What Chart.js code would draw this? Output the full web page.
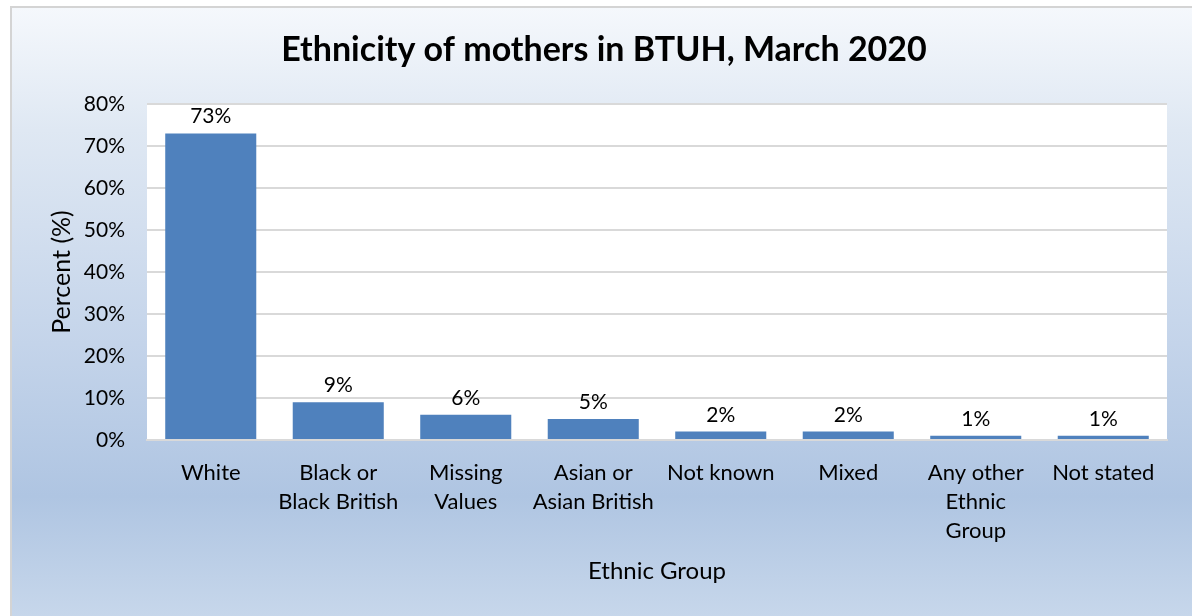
<!DOCTYPE html>
<html>
<head>
<meta charset="utf-8">
<script src="https://cdn.jsdelivr.net/npm/chart.js@4/dist/chart.umd.min.js"></script>
<style>
  html, body { margin: 0; padding: 0; background: #ffffff; overflow: hidden; }
  #frame {
    position: absolute; left: 10px; top: 6px;
    width: 1182px; height: 610px;
    border-left: 2px solid #d4d4d4; border-top: 2px solid #d4d4d4;
    background: linear-gradient(to bottom, #f5f8fc 0%, #dfe8f3 20%, #c4d4ea 55%, #afc5e2 80%, #c7d7eb 100%);
    overflow: hidden;
  }
  canvas { display: block; }
</style>
</head>
<body>
<div id="frame"><canvas id="chart" width="1180" height="608"></canvas></div>
<script>
// Share of mothers by ethnic group (percent)
const categories = [
  "White",
  ["Black or", "Black British"],
  ["Missing", "Values"],
  ["Asian or", "Asian British"],
  "Not known",
  "Mixed",
  ["Any other", "Ethnic", "Group"],
  "Not stated"
];
const percentValues = [73, 9, 6, 5, 2, 2, 1, 1];
const yTicks = [0, 10, 20, 30, 40, 50, 60, 70, 80];
const chartTitle = 'Ethnicity of mothers in BTUH, March 2020';

const FONT = "Lato, 'Open Sans', sans-serif";

// White plot background behind the bars
const plotBackground = {
  id: 'plotBackground',
  beforeDraw(chart) {
    const { ctx, chartArea: a } = chart;
    ctx.save();
    ctx.fillStyle = '#ffffff';
    ctx.fillRect(a.left, a.top, a.right - a.left, a.bottom - a.top);
    ctx.restore();
  }
};

// Chart heading, centred on the whole frame
const heading = {
  id: 'heading',
  afterDraw(chart) {
    const { ctx } = chart;
    ctx.save();
    ctx.font = `bold 34px ${FONT}`;
    ctx.fillStyle = '#000000';
    ctx.textAlign = 'center';
    ctx.textBaseline = 'middle';
    ctx.fillText(chartTitle, 592, 42);
    ctx.restore();
  }
};

// Value labels above each bar
const barValueLabels = {
  id: 'barValueLabels',
  afterDatasetsDraw(chart) {
    const { ctx } = chart;
    const meta = chart.getDatasetMeta(0);
    ctx.save();
    ctx.font = `21px ${FONT}`;
    ctx.fillStyle = '#000000';
    ctx.textAlign = 'center';
    ctx.textBaseline = 'alphabetic';
    meta.data.forEach((bar, i) => {
      const v = chart.data.datasets[0].data[i];
      ctx.fillText(v + '%', bar.x, bar.y - 10);
    });
    ctx.restore();
  }
};

new Chart(document.getElementById('chart'), {
  type: 'bar',
  data: {
    labels: categories,
    datasets: [{
      data: percentValues,
      backgroundColor: '#4f81bd',
      borderWidth: 0,
      barPercentage: 0.714,
      categoryPercentage: 1.0
    }]
  },
  options: {
    responsive: false,
    animation: false,
    devicePixelRatio: 1,
    layout: { padding: { left: 0, right: 25, top: 96, bottom: 0 } },
    plugins: {
      legend: { display: false },
      tooltip: { enabled: false },
      title: { display: false }
    },
    scales: {
      x: {
        grid: { display: false, drawTicks: false },
        border: { display: true, color: '#d9d9d9', width: 2 },
        ticks: {
          color: '#000000',
          font: { family: FONT, size: 22, lineHeight: 1.32 },
          padding: 18,
          maxRotation: 0,
          autoSkip: false
        },
        title: {
          display: true,
          text: 'Ethnic Group',
          color: '#000000',
          font: { family: FONT, size: 24 },
          padding: { top: 0, bottom: 30 }
        },
        afterFit(scale) { scale.height = 176; }
      },
      y: {
        min: 0,
        max: 80,
        afterBuildTicks(scale) { scale.ticks = yTicks.map(v => ({ value: v })); },
        grid: { color: '#d9d9d9', lineWidth: 2, drawTicks: false },
        border: { display: false },
        ticks: {
          color: '#000000',
          font: { family: FONT, size: 21 },
          padding: 22,
          callback: v => v + '%'
        },
        title: {
          display: true,
          text: 'Percent (%)',
          color: '#000000',
          font: { family: FONT, size: 25 },
          padding: { top: 35, bottom: 0 }
        },
        afterFit(scale) { scale.width = 135; }
      }
    }
  },
  plugins: [plotBackground, barValueLabels, heading]
});
</script>
</body>
</html>
